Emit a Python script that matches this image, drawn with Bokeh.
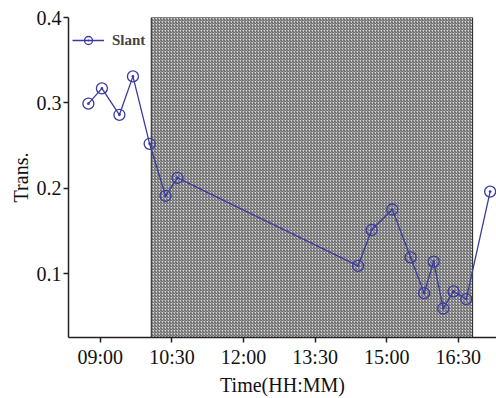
from bokeh.plotting import figure
from bokeh.models import Range1d, FixedTicker, ColumnDataSource, Legend, LegendItem
from bokeh.embed import file_html
from bokeh.resources import INLINE

# data (time as "HH:MM", transmittance)
times = ["08:45", "09:02", "09:24", "09:41", "10:02", "10:22", "10:37",
         "14:24", "14:41", "15:07", "15:30", "15:47", "15:59", "16:11",
         "16:24", "16:40", "17:10"]
trans = [0.299, 0.317, 0.286, 0.331, 0.252, 0.191, 0.212,
         0.109, 0.151, 0.175, 0.119, 0.077, 0.114, 0.059,
         0.079, 0.070, 0.196]
shade_start = ["10:04"]
shade_end = ["16:48"]
tick_labels = ["09:00", "10:30", "12:00", "13:30", "15:00", "16:30"]
y_ticks = [0.1, 0.2, 0.3, 0.4]

def to_min(s):
    h, m = s.split(":")
    return int(h) * 60 + int(m)

x = [to_min(t) for t in times]
tick_pos = [to_min(t) for t in tick_labels]

p = figure(width=496, height=398, output_backend="svg", toolbar_location=None,
           x_range=Range1d(500, 1038), y_range=Range1d(0.025, 0.4),
           min_border_left=68, min_border_right=0, min_border_top=17, min_border_bottom=56)
p.outline_line_color = None
p.xgrid.visible = False
p.ygrid.visible = False
p.background_fill_color = "white"
p.border_fill_color = "white"

p.quad(left=[to_min(s) for s in shade_start], right=[to_min(s) for s in shade_end],
       bottom=[0.025], top=[0.4], fill_color="#dadada", hatch_pattern="/",
       hatch_color="#4e4e4e", hatch_scale=3, hatch_weight=1,
       line_color="#222222", line_width=1)

src = ColumnDataSource(dict(x=x, y=trans))
col = "#3b3b9e"
ln = p.line("x", "y", source=src, line_color=col, line_width=1.3)
mk = p.scatter("x", "y", source=src, marker="circle_dot", size=11,
               line_color=col, line_width=1.3, fill_alpha=0)

legend = Legend(items=[LegendItem(label="Slant", renderers=[ln, mk])],
                border_line_color=None,
                background_fill_alpha=0, label_text_font="Liberation Serif",
                label_text_font_size="15px", label_text_font_style="bold",
                glyph_width=32, margin=0, padding=0, spacing=0, label_standoff=8)
p.add_layout(legend)
legend.location = (4, 287)

for ax in (p.xaxis[0], p.yaxis[0]):
    ax.axis_line_width = 1.5
    ax.axis_line_color = "#222222"
    ax.major_tick_line_color = "#222222"
    ax.major_tick_line_width = 1.5
    ax.major_tick_out = 5
    ax.major_tick_in = 0
    ax.minor_tick_line_color = None
    ax.major_label_text_font = "Liberation Serif"
    ax.major_label_text_font_size = "20px"
    ax.major_label_text_color = "#111111"
    ax.axis_label_text_font = "Liberation Serif"
    ax.axis_label_text_font_size = "20px"
    ax.axis_label_text_font_style = "normal"
    ax.axis_label_text_color = "#111111"

p.xaxis.ticker = FixedTicker(ticks=tick_pos)
p.xaxis.major_label_overrides = {tp: lab for tp, lab in zip(tick_pos, tick_labels)}
p.xaxis.axis_label = "Time(HH:MM)"
p.xaxis.axis_label_standoff = 3
p.xaxis.major_label_standoff = 3
p.yaxis.ticker = FixedTicker(ticks=y_ticks)
p.yaxis.major_label_overrides = {v: f"{v:.1f}" for v in y_ticks}
p.yaxis.axis_label = "Trans."
p.yaxis.axis_label_standoff = 2
p.yaxis.major_label_standoff = 2

open("out.html", "w").write(file_html(p, INLINE))
